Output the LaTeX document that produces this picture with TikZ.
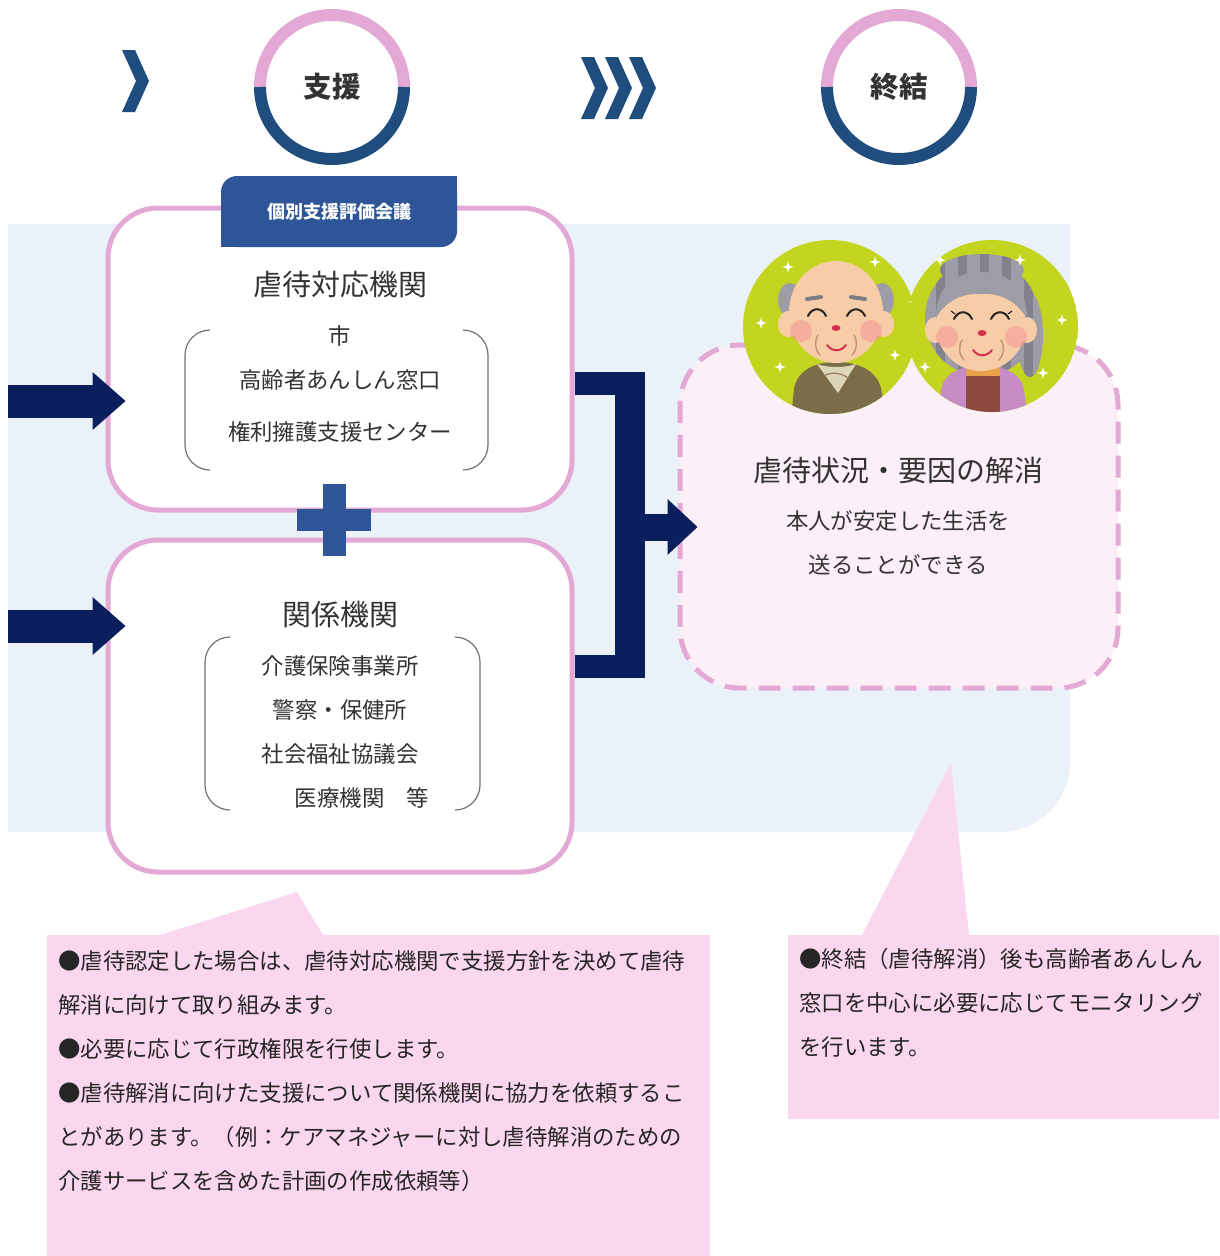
\documentclass[tikz,border=0pt]{standalone}
\usepackage{fontspec}
\setmainfont{Noto Sans CJK JP}
\usetikzlibrary{arrows.meta}

\definecolor{navy}{RGB}{11,31,92}
\definecolor{chev}{RGB}{31,78,126}
\definecolor{badge}{RGB}{46,85,151}
\definecolor{rosa}{RGB}{227,169,212}
\definecolor{panel}{RGB}{235,241,249}
\definecolor{goalfill}{RGB}{252,239,248}
\definecolor{callfill}{RGB}{250,215,238}
\definecolor{ink}{RGB}{51,51,51}
\definecolor{leaf}{RGB}{196,213,31}
\definecolor{skin}{RGB}{247,205,168}
\definecolor{hairgray}{RGB}{158,156,166}
\definecolor{hairdark}{RGB}{132,129,142}
\definecolor{olive}{RGB}{123,109,72}
\definecolor{collar}{RGB}{220,214,184}
\definecolor{lilac}{RGB}{200,140,196}
\definecolor{brownin}{RGB}{140,74,60}
\definecolor{orangec}{RGB}{233,161,74}
\definecolor{cheek}{RGB}{244,150,150}
\definecolor{lip}{RGB}{214,48,80}
\definecolor{wrinkle}{RGB}{196,150,118}

\begin{document}
\begin{tikzpicture}[x=1pt,y=-1pt,
  agency/.style={draw=rosa, line width=5pt, fill=white, rounded corners=50pt},
  goalbox/.style={draw=rosa, line width=5pt, fill=goalfill, rounded corners=60pt,
                  dash pattern=on 22pt off 12pt},
  title/.style={font=\fontsize{29}{34}\selectfont, text=ink, inner sep=0pt},
  item/.style={font=\fontsize{22.4}{26}\selectfont, text=ink, inner sep=0pt},
  note/.style={font=\fontsize{22.4}{44}\selectfont, text=black!85, inner sep=0pt,
               align=left, anchor=north west},
  stage/.style={font=\bfseries\fontsize{28.5}{34}\selectfont, text=ink, inner sep=0pt},
  bracketline/.style={draw=black!55, line width=1.2pt, rounded corners=25pt},
  bar/.style={draw=navy},
  bigarrow/.style={draw=navy, line width=33pt,
                   -{Triangle[length=33pt,width=58pt,line width=0pt]}},
  chevron/.pic={\fill[chev] (0,0) -- (13,0) -- (27,31) -- (13,62) -- (0,62) -- (14,31) -- cycle;},
  sparkle/.pic={\fill[white] (0,-6) .. controls (1,-1) .. (6,0) .. controls (1,1) .. (0,6)
                 .. controls (-1,1) .. (-6,0) .. controls (-1,-1) .. cycle;}
]
\useasboundingbox (0,0) rectangle (1219,1256);
\fill[white] (0,0) rectangle (1219,1256);

% light background panel, only the lower right corner is rounded
\fill[panel, rounded corners=70pt] (8,224) rectangle (1070,832);
\fill[panel] (8,224) rectangle (200,832);
\fill[panel] (8,224) rectangle (1070,500);

% stage markers
\pic at (122,50) {chevron};
\pic at (581,57) {chevron};
\pic at (605,57) {chevron};
\pic at (629,57) {chevron};

\node[stage] (support) at (332,87) {支援};
\draw[rosa, line width=12pt] (support.center) ++(180:72) arc[start angle=180, end angle=360, radius=72];
\draw[chev, line width=12pt] (support.center) ++(0:72) arc[start angle=0, end angle=180, radius=72];

\node[stage] (closure) at (899,87) {終結};
\draw[rosa, line width=12pt] (closure.center) ++(180:72) arc[start angle=180, end angle=360, radius=72];
\draw[chev, line width=12pt] (closure.center) ++(0:72) arc[start angle=0, end angle=180, radius=72];

% the two agency boxes
\node[agency, minimum width=464pt, minimum height=302pt] (box1) at (340,359) {};
\node[agency, minimum width=464pt, minimum height=332pt] (box2) at (340,706) {};

% meeting badge on the first box
\node[fill=badge, rounded corners=16pt, minimum width=236pt, minimum height=71pt,
      inner sep=0pt] (meeting) at (339,211.5) {};
\fill[badge] (meeting.north east) rectangle ++(-20,20);
\fill[badge] (meeting.south west) rectangle ++(20,-20);
\node[font=\bfseries\fontsize{18}{22}\selectfont, text=white] at (meeting.center) {個別支援評価会議};

% first box contents
\node[title] (t1) at (340,285) {虐待対応機関};
\node[item] (i11) at (340,336) {市};
\node[item] (i12) at (340,380) {高齢者あんしん窓口};
\node[item] (i13) at (340,432) {権利擁護支援センター};
\coordinate (b1nw) at (185,330);
\coordinate (b1se) at (488,470);
\draw[bracketline] ([xshift=25pt]b1nw) -- (b1nw) -- (b1nw |- b1se) -- ([xshift=25pt]b1nw |- b1se);
\draw[bracketline] ([xshift=-25pt]b1se |- b1nw) -- (b1se |- b1nw) -- (b1se) -- ([xshift=-25pt]b1se);

% second box contents
\node[title] (t2) at (340,615) {関係機関};
\node[item] (i21) at (340,666) {介護保険事業所};
\node[item] (i22) at (340,710) {警察・保健所};
\node[item] (i23) at (340,754) {社会福祉協議会};
\node[item] (i24) at (362,798) {医療機関　等};
\coordinate (b2nw) at (205,637);
\coordinate (b2se) at (480,810);
\draw[bracketline] ([xshift=25pt]b2nw) -- (b2nw) -- (b2nw |- b2se) -- ([xshift=25pt]b2nw |- b2se);
\draw[bracketline] ([xshift=-25pt]b2se |- b2nw) -- (b2se |- b2nw) -- (b2se) -- ([xshift=-25pt]b2se);

% plus sign between the boxes
\fill[badge] (323,484) rectangle (346,556);
\fill[badge] (297,509) rectangle (371,531);

% incoming arrows
\coordinate (in1) at (8,401);
\coordinate (in2) at (8,626);
\draw[bigarrow] (in1) -- ([xshift=20pt]in1 -| box1.west);
\draw[bigarrow] (in2) -- ([xshift=20pt]in2 -| box2.west);

% goal box
\node[goalbox, minimum width=438pt, minimum height=343pt] (goal) at (899,516.5) {};
\node[title] (g1) at (898,470) {虐待状況・要因の解消};
\node[item] (g2) at (898,521) {本人が安定した生活を};
\node[item] (g3) at (898,565) {送ることができる};

% merging connector
\coordinate (ja) at (645,383.5);
\coordinate (jc) at (615,666.5);
\coordinate (jtop) at (630,372);
\coordinate (jbot) at (630,678);
\coordinate (jm) at (630,527);
\draw[bar, line width=23pt] (box1.east |- ja) -- (ja);
\draw[bar, line width=23pt] (box2.east |- jc) -- (jc);
\draw[bar, line width=30pt] (jtop) -- (jbot);
\draw[draw=navy, line width=27pt, -{Triangle[length=30pt,width=56pt,line width=0pt]}]
  (jm) -- ([xshift=20pt]jm -| goal.west);

% elderly couple: grandfather
\begin{scope}
  \clip (830,327) circle[radius=87];
  \fill[leaf] (830,327) circle[radius=87];
  \fill[olive] (791,420) -- (794,388) .. controls (798,370) and (815,362) .. (836,362)
     .. controls (858,362) and (876,370) .. (881,388) -- (886,420) -- cycle;
  \fill[collar] (817,364) .. controls (828,368) and (846,368) .. (856,364)
     -- (838,393) -- cycle;
  \draw[wrinkle!80!black, line width=1.2pt] (824,376) .. controls (830,372) and (840,372) .. (848,378);
  \fill[hairgray] (790,300) ellipse[x radius=12, y radius=17];
  \fill[hairgray] (882,300) ellipse[x radius=12, y radius=17];
  \fill[skin] (788,324) ellipse[x radius=10, y radius=13];
  \fill[skin] (884,324) ellipse[x radius=10, y radius=13];
  \fill[skin] (836,312) ellipse[x radius=47, y radius=51];
  \fill[cheek, opacity=0.55] (801,331) circle[radius=11];
  \fill[cheek, opacity=0.55] (871,331) circle[radius=11];
  \draw[hairgray!80!black, line width=4pt, line cap=round] (807,299) -- (821,297);
  \draw[hairgray!80!black, line width=4pt, line cap=round] (851,297) -- (865,299);
  \draw[black!85, line width=2pt, line cap=round] (808,316) .. controls (812,307) and (822,307) .. (826,316);
  \draw[black!85, line width=2pt, line cap=round] (847,316) .. controls (851,307) and (861,307) .. (865,316);
  \fill[lip] (836,328) ellipse[x radius=4.5, y radius=3];
  \draw[lip, line width=2pt, line cap=round] (827,345) .. controls (832,352) and (841,352) .. (846,345);
  \draw[wrinkle, line width=1.5pt, line cap=round] (818,335) .. controls (814,342) and (815,350) .. (820,355);
  \draw[wrinkle, line width=1.5pt, line cap=round] (854,335) .. controls (858,342) and (857,350) .. (852,355);
  \pic at (788,267) {sparkle};
  \pic at (875,262) {sparkle};
  \pic at (761,323) {sparkle};
  \pic at (780,367) {sparkle};
  \pic at (895,355) {sparkle};
\end{scope}

% elderly couple: grandmother
\begin{scope}
  \clip (992,326) circle[radius=86];
  \fill[leaf] (992,326) circle[radius=86];
  % striped grey hair
  \begin{scope}
    \clip (982,318) ellipse[x radius=57, y radius=58]
          (982,270) ellipse[x radius=42, y radius=16]
          (1030,335) ellipse[x radius=13, y radius=42];
    \fill[hairgray] (900,240) rectangle (1060,400);
    \foreach \sx in {936,958,980,1002,1024}
      \fill[hairdark] (\sx,240) rectangle ++(9,160);
  \end{scope}
  \fill[lilac] (938,420) -- (941,390) .. controls (944,372) and (962,366) .. (982,366)
     .. controls (1003,366) and (1021,372) .. (1024,390) -- (1028,420) -- cycle;
  \fill[brownin] (966,372) rectangle (1000,420);
  \fill[orangec] (966,366) rectangle (1000,376);
  \fill[skin] (935,330) ellipse[x radius=10, y radius=13];
  \fill[skin] (1027,330) ellipse[x radius=10, y radius=13];
  \fill[skin] (981,325) ellipse[x radius=45, y radius=46];
  \fill[hairgray] (936,318) .. controls (936,284) and (958,272) .. (981,272)
     .. controls (1006,272) and (1027,286) .. (1027,318)
     .. controls (1015,300) and (1000,293) .. (981,294)
     .. controls (963,293) and (946,300) .. (936,318) -- cycle;
  \fill[cheek, opacity=0.55] (947,337) circle[radius=11];
  \fill[cheek, opacity=0.55] (1016,337) circle[radius=11];
  \draw[black!85, line width=2pt, line cap=round] (954,319) .. controls (958,310) and (968,310) .. (972,319);
  \draw[black!85, line width=2pt, line cap=round] (991,319) .. controls (995,310) and (1005,310) .. (1009,319);
  \draw[black!85, line width=1.2pt] (955,314) -- (951,311);
  \draw[black!85, line width=1.2pt] (1008,314) -- (1012,311);
  \fill[lip] (982,333) ellipse[x radius=4.5, y radius=3];
  \draw[lip, line width=2pt, line cap=round] (973,350) .. controls (978,357) and (987,357) .. (992,350);
  \draw[wrinkle, line width=1.5pt, line cap=round] (962,340) .. controls (958,347) and (959,355) .. (964,360);
  \draw[wrinkle, line width=1.5pt, line cap=round] (1001,340) .. controls (1005,347) and (1004,355) .. (999,360);
  \pic at (940,260) {sparkle};
  \pic at (1020,260) {sparkle};
  \pic at (1062,320) {sparkle};
  \pic at (925,367) {sparkle};
  \pic at (1043,373) {sparkle};
  \pic at (906,302) {sparkle};
\end{scope}

% explanation callouts
\fill[callfill] (160,935) -- (297,892) -- (323,935) -- cycle;
\node[fill=callfill, minimum width=663pt, minimum height=321pt, inner sep=0pt,
      anchor=north west] (note1) at (47,935) {};
\node[note] at (58,950) {●虐待認定した場合は、虐待対応機関で支援方針を決めて虐待\\
解消に向けて取り組みます。\\
●必要に応じて行政権限を行使します。\\
●虐待解消に向けた支援について関係機関に協力を依頼するこ\\
とがあります。（例：ケアマネジャーに対し虐待解消のための\\
介護サービスを含めた計画の作成依頼等）};

\fill[callfill] (862,935) -- (951,763) -- (969,935) -- cycle;
\node[fill=callfill, minimum width=431pt, minimum height=184pt, inner sep=0pt,
      anchor=north west] (note2) at (788,935) {};
\node[note] at (799,948) {●終結（虐待解消）後も高齢者あんしん\\
窓口を中心に必要に応じてモニタリング\\
を行います。};
\end{tikzpicture}
\end{document}
